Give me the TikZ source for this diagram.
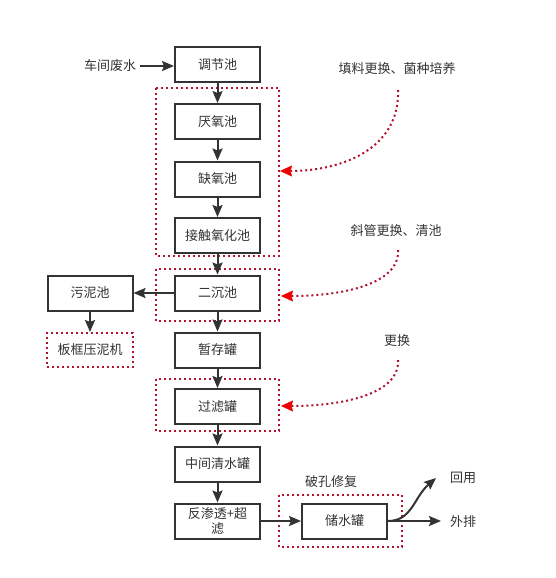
\documentclass[tikz,border=0pt]{standalone}
\usepackage{fontspec}
\newfontfamily\cjk{Noto Sans CJK SC}
\usetikzlibrary{arrows.meta}
\definecolor{ink}{HTML}{333333}
\definecolor{dotred}{HTML}{B3122E}
\definecolor{tipred}{HTML}{F00000}
\tikzset{
  procbox/.style={draw=ink, line width=2pt, minimum width=85pt, minimum height=35pt, inner sep=0pt, font=\cjk\fontsize{13}{16}\selectfont, text=ink, align=center, fill=white},
  txt/.style={font=\cjk\fontsize{13}{16}\selectfont, text=ink, inner sep=0pt},
  flow/.style={draw=ink, line width=2pt, -{Stealth[inset=2pt,length=12pt,width=10pt]}},
  dotbox/.style={draw=dotred, line width=2pt, dash pattern=on 2pt off 3pt, inner sep=0pt},
  redcurve/.style={draw=dotred, line width=2pt, dash pattern=on 2pt off 3pt, -{Stealth[inset=1.5pt,length=12pt,width=11pt,color=tipred,fill=tipred,line width=0.5pt,sep=0pt]}}
}
\begin{document}
\begin{tikzpicture}[x=1pt,y=-1pt]
\useasboundingbox (0,0) rectangle (556,578);
% dotted frames
\draw[dotbox] (156,88) rectangle (279,256);
\draw[dotbox] (156,269) rectangle (279,321);
\draw[dotbox] (156,379) rectangle (279,431);
\draw[dotbox] (279,495) rectangle (402,547);
\node[dotbox, minimum width=86pt, minimum height=34pt, font=\cjk\fontsize{13}{16}\selectfont, text=ink] (press) at (90,350) {板框压泥机};
% frame anchors
\coordinate (f1) at (280,171);
\coordinate (f2) at (281,296);
\coordinate (f3) at (281,406);
% process boxes
\node[procbox] (tj) at (217.5,64.5) {调节池};
\node[procbox] (yy) at (217.5,121.5) {厌氧池};
\node[procbox] (qy) at (217.5,179) {缺氧池};
\node[procbox] (jc) at (217.5,235.5) {接触氧化池};
\node[procbox] (ec) at (217.5,293) {二沉池};
\node[procbox] (wn) at (90,293) {污泥池};
\node[procbox] (zc) at (217.5,350) {暂存罐};
\node[procbox] (gl) at (217.5,406.5) {过滤罐};
\node[procbox] (zj) at (217.5,464) {中间清水罐};
\node[procbox, font=\cjk\fontsize{13}{15}\selectfont] (fs) at (217.5,521) {反渗透+超\\滤};
\node[procbox] (cs) at (344.5,521) {储水罐};
% texts
\node[txt] (cjfs) at (110,66) {车间废水};
\node[txt] (t1) at (397,69) {填料更换、菌种培养};
\node[txt] (t2) at (396,231) {斜管更换、清池};
\node[txt] (t3) at (397,341) {更换};
\node[txt] (t4) at (331,482) {破孔修复};
\node[txt] (hy) at (463,478) {回用};
\node[txt] (wp) at (463,522) {外排};
\coordinate (s1) at (398,90);
\coordinate (s2) at (398,250);
\coordinate (s3) at (398,360);
\coordinate (hyend) at (436,478);
\coordinate (wpend) at (441,521);
\coordinate (inflow) at (140,66);
% flow arrows
\draw[flow] (inflow) -- (inflow -| tj.west);
\draw[flow] (tj) -- (yy);
\draw[flow] (yy) -- (qy);
\draw[flow] (qy) -- (jc);
\draw[flow] (jc) -- (ec);
\draw[flow] (ec) -- (wn);
\draw[flow] (wn) -- (press);
\draw[flow] (ec) -- (zc);
\draw[flow] (zc) -- (gl);
\draw[flow] (gl) -- (zj);
\draw[flow] (zj) -- (fs);
\draw[flow] (fs) -- (cs);
\draw[flow] (cs.east) -- (wpend);
\draw[flow] (cs.east) .. controls (412,521) and (414,497) .. (hyend);
% red curved arrows
\draw[redcurve] (s1) .. controls (400,150) and (340,171) .. (f1);
\draw[redcurve] (s2) .. controls (400,285) and (340,296) .. (f2);
\draw[redcurve] (s3) .. controls (400,395) and (340,406) .. (f3);
\end{tikzpicture}
\end{document}
